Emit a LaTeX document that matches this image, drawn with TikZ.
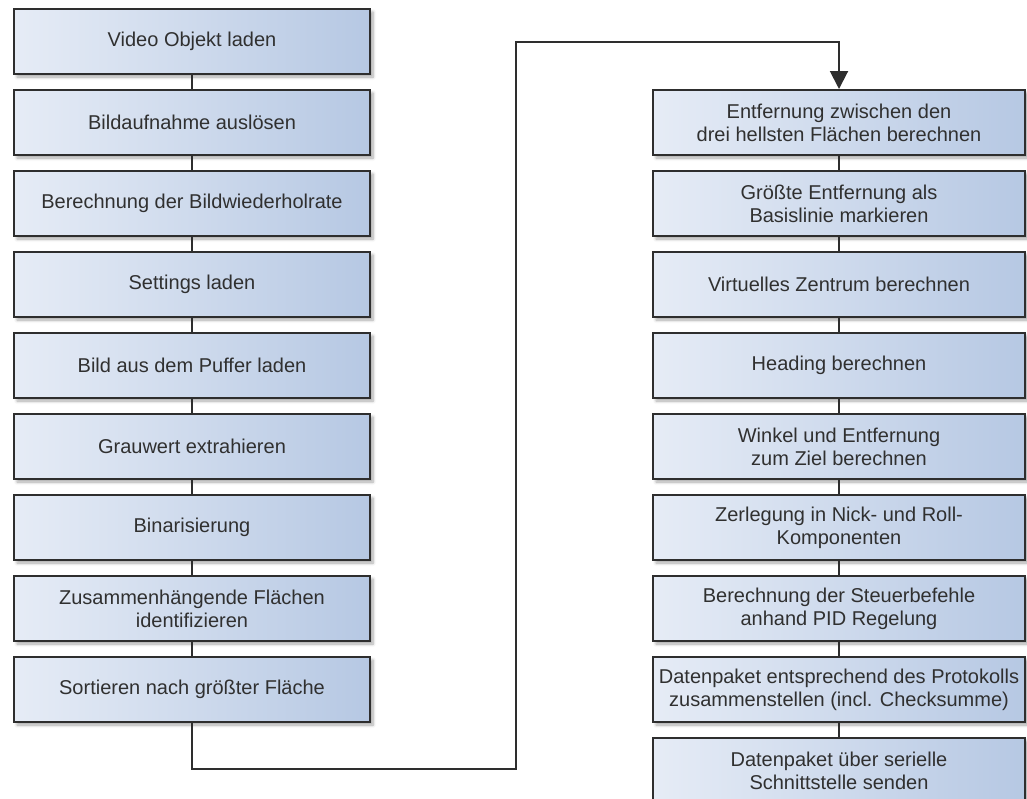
\documentclass[tikz,border=0pt]{standalone}
\usepackage{fontspec}
\setmainfont{Liberation Sans}
\usetikzlibrary{shadows.blur,arrows.meta}

\definecolor{boxleft}{HTML}{E6ECF6}
\definecolor{boxright}{HTML}{B6C8E3}
\definecolor{edge}{HTML}{2E2E2E}
\definecolor{txt}{HTML}{303030}

\tikzset{
  stepbox/.style={
    draw=edge, line width=2pt, rectangle,
    left color=boxleft, right color=boxright,
    minimum height=65pt, inner sep=0pt, align=center,
    text=txt, font=\fontsize{20pt}{23pt}\selectfont,
    blur shadow={shadow xshift=3pt, shadow yshift=-3pt,
                 shadow blur steps=6, shadow blur radius=3pt, shadow opacity=35}
  },
  leftbox/.style={stepbox, minimum width=356pt},
  rightbox/.style={stepbox, minimum width=372pt},
  link/.style={draw=edge, line width=2pt}
}

\begin{document}
\begin{tikzpicture}[x=1pt, y=-1pt]
  \useasboundingbox (0,0) rectangle (1027,798);
  \clip (0,0) rectangle (1027,798);

  % image processing steps (left column)
  \node[leftbox] (l1) at (192,41.5)  {Video Objekt laden};
  \node[leftbox] (l2) at (192,122.5) {Bildaufnahme auslösen};
  \node[leftbox] (l3) at (192,203.5) {Berechnung der Bildwiederholrate};
  \node[leftbox] (l4) at (192,284.5) {Settings laden};
  \node[leftbox] (l5) at (192,365.5) {Bild aus dem Puffer laden};
  \node[leftbox] (l6) at (192,446.5) {Grauwert extrahieren};
  \node[leftbox] (l7) at (192,527.5) {Binarisierung};
  \node[leftbox] (l8) at (192,608.5) {Zusammenhängende Flächen\\identifizieren};
  \node[leftbox] (l9) at (192,689.5) {Sortieren nach größter Fläche};

  % control steps (right column)
  \node[rightbox] (r1) at (839,122.5) {Entfernung zwischen den\\drei hellsten Flächen berechnen};
  \node[rightbox] (r2) at (839,203.5) {Größte Entfernung als\\Basislinie markieren};
  \node[rightbox] (r3) at (839,284.5) {Virtuelles Zentrum berechnen};
  \node[rightbox] (r4) at (839,365.5) {Heading berechnen};
  \node[rightbox] (r5) at (839,446.5) {Winkel und Entfernung\\zum Ziel berechnen};
  \node[rightbox] (r6) at (839,527.5) {Zerlegung in Nick- und Roll-\\Komponenten};
  \node[rightbox] (r7) at (839,608.5) {Berechnung der Steuerbefehle\\anhand PID Regelung};
  \node[rightbox] (r8) at (839,689.5) {Datenpaket entsprechend des Protokolls\\zusammenstellen (incl. Checksumme)};
  \node[rightbox] (r9) at (839,770.5) {Datenpaket über serielle\\Schnittstelle senden};

  % connectors inside each column
  \foreach \a/\b in {l1/l2,l2/l3,l3/l4,l4/l5,l5/l6,l6/l7,l7/l8,l8/l9,
                     r1/r2,r2/r3,r3/r4,r4/r5,r5/r6,r6/r7,r7/r8,r8/r9}
    \draw[link] (\a.south) -- (\b.north);

  % transition from the left column to the right column
  \coordinate (c1) at (192,769);
  \coordinate (c2) at (515.5,769);
  \coordinate (c3) at (515.5,42);
  \draw[link, -{Triangle[width=18pt,length=18pt]}, line join=miter]
    (l9.south) -- (c1) -- (c2) -- (c3) -| (r1.north);
\end{tikzpicture}
\end{document}
